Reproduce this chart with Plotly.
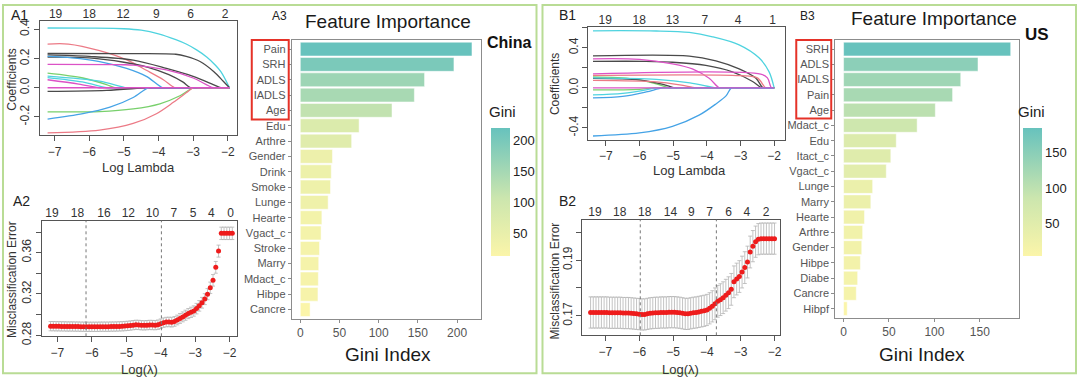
import plotly.graph_objects as go

# ---------------- DATA ----------------
# A1: China lasso coefficient paths (log lambda, coefficient)
a1_path_x = [
    [-7.2, -6.0, -5.0, -4.5, -4.0, -3.5, -3.2, -2.9, -2.6, -2.4, -2.2, -1.95],
    [-7.2, -6.6, -5.7, -4.9, -4.35, -3.86, -3.53, -3.35, -1.95],
    [-7.2, -5.0, -3.5, -3.2, -2.8, -2.4, -2.13, -1.95],
    [-7.2, -6.0, -4.73, -3.77, -3.0, -2.42, -2.2, -2.05, -1.95],
    [-7.2, -6.0, -5.0, -4.3, -3.7, -3.3, -3.07, -2.9, -1.95],
    [-7.2, -6.5, -5.7, -4.92, -4.35, -3.88, -3.7, -1.95],
    [-7.2, -5.0, -4.73, -3.77, -3.0, -2.42, -2.25, -1.95],
    [-7.2, -6.18, -5.5, -5.26, -5.1, -1.95],
    [-7.2, -5.7, -4.92, -4.75, -1.95],
    [-7.2, -6.2, -5.5, -5.35, -1.95],
    [-7.2, -6.3, -5.7, -5.55, -1.95],
    [-7.2, -5.5, -4.35, -4.2, -1.95],
    [-7.2, -5.7, -4.73, -3.96, -3.38, -3.0, -2.85, -1.95],
    [-7.2, -6.18, -5.4, -4.73, -4.3, -4.15, -1.95],
    [-7.2, -5.7, -4.73, -4.06, -3.57, -3.19, -3.0, -2.85, -1.95],
    [-7.2, -1.95],
]
a1_path_y = [
    [0.41, 0.409, 0.405, 0.395, 0.37, 0.33, 0.30, 0.26, 0.21, 0.165, 0.11, 0.0],
    [0.30, 0.30, 0.255, 0.19, 0.12, 0.055, 0.0, 0.0, 0.0],
    [0.235, 0.234, 0.23, 0.215, 0.18, 0.11, 0.045, 0.0],
    [0.225, 0.215, 0.19, 0.133, 0.078, 0.022, 0.0, 0.0, 0.0],
    [0.21, 0.205, 0.175, 0.14, 0.09, 0.04, 0.0, 0.0, 0.0],
    [0.215, 0.205, 0.18, 0.133, 0.078, 0.0, 0.0, 0.0],
    [0.16, 0.158, 0.155, 0.122, 0.067, 0.0, 0.0, 0.0],
    [0.10, 0.067, 0.022, 0.0, 0.0, 0.0],
    [0.08, 0.045, 0.0, 0.0, 0.0],
    [0.07, 0.04, 0.0, 0.0, 0.0],
    [0.055, 0.025, 0.0, 0.0, 0.0],
    [-0.025, -0.018, 0.0, 0.0, 0.0],
    [-0.165, -0.163, -0.145, -0.11, -0.055, 0.0, 0.0, 0.0],
    [-0.215, -0.178, -0.133, -0.067, 0.0, 0.0, 0.0],
    [-0.31, -0.29, -0.245, -0.178, -0.10, -0.033, 0.0, 0.0, 0.0],
    [0.0, 0.0],
]
a1_top_vals = [-6.97, -6.0, -5.02, -4.06, -3.07, -2.08]
a1_top_text = ["19", "18", "12", "9", "6", "2"]

# A2: China CV misclassification error
a2_x = [-7.20, -7.12, -7.04, -6.96, -6.88, -6.80, -6.72, -6.64, -6.56, -6.48,
        -6.40, -6.32, -6.24, -6.16, -6.08, -6.00, -5.92, -5.84, -5.76, -5.68,
        -5.60, -5.52, -5.44, -5.36, -5.28, -5.20, -5.12, -5.04, -4.96, -4.88,
        -4.80, -4.72, -4.64, -4.56, -4.48, -4.40, -4.32, -4.24, -4.16, -4.08,
        -4.00, -3.92, -3.84, -3.76, -3.68, -3.60, -3.52, -3.44, -3.36, -3.28,
        -3.20, -3.12, -3.04, -2.96, -2.88, -2.80, -2.72, -2.64, -2.56, -2.48,
        -2.40, -2.32, -2.24, -2.16, -2.08, -2.00, -1.92]
a2_err_mean = [0.2888, 0.2888, 0.2887, 0.2887, 0.2886, 0.2886, 0.2885, 0.2885, 0.2885, 0.2884,
               0.2884, 0.2883, 0.2883, 0.2882, 0.2882, 0.2882, 0.2882, 0.2882, 0.2883, 0.2883,
               0.2883, 0.2883, 0.2884, 0.2884, 0.2885, 0.2886, 0.2887, 0.2889, 0.2891, 0.2894,
               0.2898, 0.2901, 0.2900, 0.2897, 0.2896, 0.2898, 0.2900, 0.2899, 0.2898, 0.2902,
               0.2912, 0.2922, 0.2928, 0.2929, 0.2927, 0.2934, 0.2948, 0.2963, 0.2978, 0.2994,
               0.3010, 0.3022, 0.3035, 0.3058, 0.3085, 0.3115, 0.3150, 0.3198, 0.3260, 0.3332,
               0.3458, 0.3615, 0.3787, 0.3787, 0.3787, 0.3787, 0.3787]
a2_err_sd = [0.0045, 0.0045, 0.0045, 0.0045, 0.0045, 0.0045, 0.0045, 0.0045, 0.0045, 0.0045,
             0.0045, 0.0045, 0.0045, 0.0045, 0.0045, 0.0045, 0.0045, 0.0045, 0.0045, 0.0045,
             0.0045, 0.0045, 0.0045, 0.0045, 0.0045, 0.0045, 0.0045, 0.0045, 0.0045, 0.0045,
             0.0045, 0.0045, 0.0045, 0.0045, 0.0045, 0.0045, 0.0045, 0.0045, 0.0045, 0.0046,
             0.0046, 0.0046, 0.0046, 0.0046, 0.0047, 0.0047, 0.0047, 0.0048, 0.0048, 0.0049,
             0.0049, 0.0050, 0.0050, 0.0051, 0.0051, 0.0052, 0.0053, 0.0054, 0.0055, 0.0056,
             0.0057, 0.0058, 0.0060, 0.0060, 0.0060, 0.0060, 0.0060]
a2_vlines = [-6.17, -3.98]
a2_top_vals = [-7.16, -6.42, -5.65, -4.94, -4.24, -3.62, -3.06, -2.53, -1.97]
a2_top_text = ["19", "18", "16", "12", "10", "7", "5", "4", "0"]

# A3: China feature importance
china_features = ["Pain", "SRH", "ADLS", "IADLS", "Age", "Edu", "Arthre", "Gender", "Drink",
                  "Smoke", "Lunge", "Hearte", "Vgact_c", "Stroke", "Marry", "Mdact_c",
                  "Hibpe", "Cancre"]
china_gini = [219, 196, 158.5, 145.5, 117, 75, 65.5, 41, 39.5, 38.5, 35.5, 27.5, 26.5,
              24.5, 23.5, 23, 22.5, 12.5]

# B1: US lasso coefficient paths
b1_path_x = [
    [-7.38, -5.5, -4.52, -3.83, -3.04, -2.45, -2.15, -2.0],
    [-7.38, -4.52, -3.73, -3.04, -2.54, -2.33, -2.2, -2.0],
    [-7.38, -5.81, -5.02, -4.03, -3.24, -2.64, -2.37, -2.25, -2.0],
    [-7.38, -6.0, -5.02, -4.43, -3.93, -3.63, -3.5, -2.0],
    [-7.38, -2.4, -2.2, -2.08, -2.0],
    [-7.38, -3.0, -2.5, -2.25, -2.15, -2.0],
    [-7.38, -6.2, -5.5, -5.12, -5.0, -2.0],
    [-7.38, -6.0, -5.3, -4.95, -4.8, -2.0],
    [-7.38, -5.5, -4.5, -3.73, -3.6, -2.0],
    [-7.38, -5.5, -4.8, -4.33, -4.2, -2.0],
    [-7.38, -6.0, -5.5, -5.35, -2.0],
    [-7.38, -6.5, -5.8, -5.51, -5.35, -2.0],
    [-7.38, -6.5, -5.8, -5.32, -5.15, -2.0],
    [-7.38, -6.0, -5.02, -4.23, -3.73, -3.43, -3.27, -3.1, -2.0],
    [-7.38, -2.0],
]
b1_path_y = [
    [0.57, 0.568, 0.553, 0.51, 0.43, 0.30, 0.16, 0.0],
    [0.32, 0.318, 0.27, 0.19, 0.096, 0.0, 0.0, 0.0],
    [0.265, 0.265, 0.256, 0.224, 0.16, 0.064, 0.0, 0.0, 0.0],
    [0.29, 0.285, 0.24, 0.19, 0.096, 0.0, 0.0, 0.0],
    [0.14, 0.138, 0.10, 0.0, 0.0],
    [0.125, 0.122, 0.10, 0.0, 0.0, 0.0],
    [0.11, 0.09, 0.04, 0.0, 0.0, 0.0],
    [0.095, 0.08, 0.035, 0.0, 0.0, 0.0],
    [0.10, 0.085, 0.05, 0.0, 0.0, 0.0],
    [0.075, 0.06, 0.03, 0.0, 0.0, 0.0],
    [-0.02, -0.015, 0.0, 0.0, 0.0],
    [-0.07, -0.055, -0.02, 0.0, 0.0, 0.0],
    [-0.10, -0.085, -0.04, 0.0, 0.0, 0.0],
    [-0.48, -0.45, -0.384, -0.272, -0.16, -0.08, 0.0, 0.0, 0.0],
    [0.0, 0.0],
]
b1_top_vals = [-7.02, -6.01, -5.02, -4.06, -3.07, -2.05]
b1_top_text = ["19", "18", "13", "7", "4", "1"]

# B2: US CV misclassification error
b2_x = [-7.44, -7.36, -7.28, -7.20, -7.12, -7.04, -6.96, -6.88, -6.80, -6.72,
        -6.64, -6.56, -6.48, -6.40, -6.32, -6.24, -6.16, -6.08, -6.00, -5.92,
        -5.84, -5.76, -5.68, -5.60, -5.52, -5.44, -5.36, -5.28, -5.20, -5.12,
        -5.04, -4.96, -4.88, -4.80, -4.72, -4.64, -4.56, -4.48, -4.40, -4.32,
        -4.24, -4.16, -4.08, -4.00, -3.92, -3.84, -3.76, -3.68, -3.60, -3.52,
        -3.44, -3.36, -3.28, -3.20, -3.12, -3.04, -2.96, -2.88, -2.80, -2.72,
        -2.64, -2.56, -2.48, -2.40, -2.32, -2.24, -2.16, -2.08, -2.00]
b2_err_mean = [0.1712, 0.1712, 0.1712, 0.1712, 0.1712, 0.1712, 0.1712, 0.1711, 0.1711, 0.1711,
               0.1711, 0.1711, 0.1710, 0.1710, 0.1710, 0.1709, 0.1708, 0.1707, 0.1706, 0.1705,
               0.1705, 0.1707, 0.1709, 0.1710, 0.1711, 0.1711, 0.1712, 0.1712, 0.1712, 0.1713,
               0.1713, 0.1713, 0.1712, 0.1711, 0.1709, 0.1707, 0.1707, 0.1709, 0.1711, 0.1712,
               0.1714, 0.1716, 0.1718, 0.1721, 0.1727, 0.1734, 0.1743, 0.1752, 0.1758, 0.1765,
               0.1774, 0.1783, 0.1795, 0.1822, 0.1832, 0.1841, 0.1857, 0.1873, 0.1893, 0.1929,
               0.1950, 0.1966, 0.1975, 0.1977, 0.1977, 0.1977, 0.1977, 0.1977, 0.1977]
b2_err_sd = [0.0056, 0.0056, 0.0056, 0.0056, 0.0056, 0.0056, 0.0056, 0.0056, 0.0056, 0.0056,
             0.0056, 0.0056, 0.0056, 0.0056, 0.0056, 0.0056, 0.0056, 0.0056, 0.0056, 0.0056,
             0.0056, 0.0056, 0.0056, 0.0056, 0.0056, 0.0056, 0.0056, 0.0056, 0.0056, 0.0056,
             0.0056, 0.0056, 0.0056, 0.0056, 0.0056, 0.0056, 0.0056, 0.0056, 0.0056, 0.0056,
             0.0056, 0.0056, 0.0056, 0.0056, 0.0056, 0.0056, 0.0057, 0.0057, 0.0057, 0.0057,
             0.0057, 0.0057, 0.0057, 0.0057, 0.0057, 0.0057, 0.0057, 0.0057, 0.0057, 0.0057,
             0.0056, 0.0056, 0.0056, 0.0056, 0.0056, 0.0056, 0.0056, 0.0056, 0.0056]
b2_vlines = [-5.97, -3.72]
b2_top_vals = [-7.31, -6.58, -5.84, -5.08, -4.46, -3.92, -3.36, -2.82, -2.25]
b2_top_text = ["19", "18", "18", "14", "9", "7", "6", "4", "2"]

# B3: US feature importance
us_features = ["SRH", "ADLS", "IADLS", "Pain", "Age", "Mdact_c", "Edu", "Itact_c", "Vgact_c",
               "Lunge", "Marry", "Hearte", "Arthre", "Gender", "Hibpe", "Diabe", "Cancre",
               "Hibpf"]
us_gini = [184, 148, 129, 120, 101, 81, 58, 52, 47, 32, 30, 23, 21, 20, 18.5, 15.5, 14, 4]

# ---------------- STYLE ----------------
W, H = 1080, 390
BASE_FONT = "Liberation Sans, Arial, sans-serif"
GG_FONT = "Liberation Sans, Arial, sans-serif"
PAL = {"black": "#4a4a4a", "red": "#ec7a86", "green": "#78d06c", "blue": "#45a3e6",
       "cyan": "#4fd3df", "magenta": "#dc52c6"}
a1_colors = ["cyan", "red", "black", "black", "black", "blue", "magenta", "green", "cyan",
             "cyan", "magenta", "black", "green", "blue", "red", "magenta"]
b1_colors = ["cyan", "black", "black", "magenta", "magenta", "red", "green", "black", "cyan",
             "red", "green", "cyan", "blue", "blue", "magenta"]
GINI_SCALE = [[0.0, "#fbf5a9"], [0.45, "#cce6ae"], [1.0, "#67c2bd"]]


def fx(p):
    return p / W


def fy(p):
    return 1 - p / H


fig = go.Figure()

# lasso paths
for xs, ys, c in zip(a1_path_x, a1_path_y, a1_colors):
    fig.add_trace(go.Scatter(x=xs, y=ys, mode="lines", xaxis="x", yaxis="y",
                             line=dict(color=PAL[c], width=1.3, shape="spline", smoothing=0.9),
                             showlegend=False, hoverinfo="skip"))
for xs, ys, c in zip(b1_path_x, b1_path_y, b1_colors):
    fig.add_trace(go.Scatter(x=xs, y=ys, mode="lines", xaxis="x4", yaxis="y4",
                             line=dict(color=PAL[c], width=1.3, shape="spline", smoothing=0.9),
                             showlegend=False, hoverinfo="skip"))

# CV curves
for xs, ys, es, xa, ya in [(a2_x, a2_err_mean, a2_err_sd, "x2", "y2"),
                           (b2_x, b2_err_mean, b2_err_sd, "x5", "y5")]:
    fig.add_trace(go.Scatter(x=xs, y=ys, mode="markers", xaxis=xa, yaxis=ya,
                             marker=dict(color="#ee1c1c", size=5),
                             error_y=dict(type="data", array=es, color="#b4b4b4",
                                          thickness=0.8, width=2),
                             showlegend=False, hoverinfo="skip"))

# feature importance bars
for feats, vals, xa, ya, cbx in [(china_features, china_gini, "x3", "y3", 491),
                                  (us_features, us_gini, "x6", "y6", 1024)]:
    fig.add_trace(go.Bar(x=vals, y=feats, orientation="h", xaxis=xa, yaxis=ya,
                         marker=dict(color=vals, colorscale=GINI_SCALE, cmin=min(vals),
                                     cmax=max(vals), line=dict(color="white", width=0.5),
                                     colorbar=dict(x=fx(cbx), xanchor="left", xpad=0, ypad=0,
                                                   y=fy(196), yanchor="middle", len=132 / H,
                                                   lenmode="fraction", thickness=19,
                                                   outlinewidth=0, ticks="",
                                                   tickvals=[50, 100, 150, 200],
                                                   tickfont=dict(family=GG_FONT, size=13,
                                                                 color="#222"))),
                         showlegend=False, hoverinfo="skip"))

# dummy traces to host top axes
for xa, ya in [("x7", "y"), ("x8", "y2"), ("x9", "y4"), ("x10", "y5")]:
    fig.add_trace(go.Scatter(x=[None], y=[None], xaxis=xa, yaxis=ya, showlegend=False,
                             hoverinfo="skip"))

tickfont = dict(family=BASE_FONT, size=12, color="#333")
base_ax = dict(showline=True, mirror=True, linecolor="#555", linewidth=1, ticks="outside",
               ticklen=5, tickcolor="#555", tickwidth=1, showgrid=False, zeroline=False,
               tickfont=tickfont)
top_ax = dict(side="top", ticks="", showline=False, showgrid=False, zeroline=False,
              tickfont=tickfont)
gg_x = dict(showline=True, mirror=True, linecolor="#8c8c8c", linewidth=1, ticks="outside",
            ticklen=3, tickcolor="#8c8c8c", showgrid=False, zeroline=False,
            tickfont=dict(family=GG_FONT, size=12, color="#555"))
gg_y = dict(showline=True, mirror=True, linecolor="#8c8c8c", linewidth=1, ticks="outside",
            ticklen=3, tickcolor="#8c8c8c", showgrid=False, zeroline=False, type="category",
            range=[17.6, -0.6], tickmode="array",
            tickfont=dict(family=GG_FONT, size=11, color="#555"))

A1x = [-7.42, -1.74]
A2x = [-7.45, -1.79]
B1x = [-7.515, -1.67]
B2x = [-7.68, -1.83]

fig.update_layout(
    width=W, height=H, autosize=False, margin=dict(l=0, r=0, t=0, b=0),
    paper_bgcolor="white", plot_bgcolor="white", bargap=0.1,
    xaxis=dict(base_ax, domain=[fx(40), fx(237)], anchor="y", range=A1x,
               tickvals=[-7, -6, -5, -4, -3, -2]),
    yaxis=dict(base_ax, domain=[fy(137), fy(20)], anchor="x", range=[-0.325, 0.455],
               tickvals=[-0.2, 0.0, 0.2, 0.4], ticktext=["-0.2", "0.0", "0.2", "0.4"],
               tickangle=-90),
    xaxis2=dict(base_ax, domain=[fx(42), fx(237)], anchor="y2", range=A2x,
                tickvals=[-7, -6, -5, -4, -3, -2]),
    yaxis2=dict(base_ax, domain=[fy(344), fy(225)], anchor="x2", range=[0.279, 0.391],
                tickvals=[0.28, 0.30, 0.32, 0.34, 0.36, 0.38],
                ticktext=["0.28", "", "0.32", "", "0.36", ""], tickangle=-90),
    xaxis3=dict(gg_x, domain=[fx(292), fx(481)], anchor="y3", range=[-10.95, 229.95],
                tickvals=[0, 50, 100, 150, 200]),
    yaxis3=dict(gg_y, domain=[fy(326), fy(39)], anchor="x3", categoryorder="array",
                categoryarray=china_features, tickvals=china_features),
    xaxis4=dict(base_ax, domain=[fx(589), fx(786)], anchor="y4", range=B1x,
                tickvals=[-7, -6, -5, -4, -3, -2]),
    yaxis4=dict(base_ax, domain=[fy(142), fy(26)], anchor="x4", range=[-0.52, 0.605],
                tickvals=[-0.4, -0.2, 0.0, 0.2, 0.4, 0.6],
                ticktext=["-0.4", "", "0.0", "", "0.4", ""], tickangle=-90),
    xaxis5=dict(base_ax, domain=[fx(583), fx(781)], anchor="y5", range=B2x,
                tickvals=[-7, -6, -5, -4, -3, -2]),
    yaxis5=dict(base_ax, domain=[fy(343), fy(224)], anchor="x5", range=[0.1630, 0.2045],
                tickvals=[0.17, 0.18, 0.19, 0.20], ticktext=["0.17", "", "0.19", ""],
                tickangle=-90),
    xaxis6=dict(gg_x, domain=[fx(836), fx(1020)], anchor="y6", range=[-9.2, 193.2],
                tickvals=[0, 50, 100, 150]),
    yaxis6=dict(gg_y, domain=[fy(325), fy(39)], anchor="x6", categoryorder="array",
                categoryarray=us_features, tickvals=us_features),
    xaxis7=dict(top_ax, overlaying="x", anchor="y", range=A1x, tickvals=a1_top_vals,
                ticktext=a1_top_text),
    xaxis8=dict(top_ax, overlaying="x2", anchor="y2", range=A2x, tickvals=a2_top_vals,
                ticktext=a2_top_text),
    xaxis9=dict(top_ax, overlaying="x4", anchor="y4", range=B1x, tickvals=b1_top_vals,
                ticktext=b1_top_text),
    xaxis10=dict(top_ax, overlaying="x5", anchor="y5", range=B2x, tickvals=b2_top_vals,
                 ticktext=b2_top_text),
)

shapes = []
# panel frames
for x0, x1 in [(3, 537), (543, 1077)]:
    shapes.append(dict(type="rect", xref="paper", yref="paper", x0=fx(x0), x1=fx(x1),
                       y0=fy(382), y1=fy(3), line=dict(color="#b9dc95", width=2),
                       layer="below"))
# red boxes around top-5 labels
for x0, x1, y0, y1 in [(252, 289, 121, 39), (797, 832, 120, 39)]:
    shapes.append(dict(type="rect", xref="paper", yref="paper", x0=fx(x0), x1=fx(x1),
                       y0=fy(y0), y1=fy(y1), line=dict(color="#e53228", width=2)))
# CV dotted lines
for v in a2_vlines:
    shapes.append(dict(type="line", xref="x2", yref="y2 domain", x0=v, x1=v, y0=0, y1=1,
                       line=dict(color="#777", width=1, dash="dot")))
for v in b2_vlines:
    shapes.append(dict(type="line", xref="x5", yref="y5 domain", x0=v, x1=v, y0=0, y1=1,
                       line=dict(color="#777", width=1, dash="dot")))
fig.update_layout(shapes=shapes)

ann = []


def text(s, x, y, size, family=BASE_FONT, color="#222", angle=0, bold=False):
    if bold:
        s = "<b>" + s + "</b>"
    ann.append(dict(text=s, x=fx(x), y=fy(y), xref="paper", yref="paper", showarrow=False,
                    xanchor="center", yanchor="middle", textangle=angle,
                    font=dict(family=family, size=size, color=color)))


text("A1", 20, 13, 14)
text("A2", 22, 205, 14)
text("A3", 280, 14, 12)
text("B1", 568, 13, 14)
text("B2", 568, 205, 14)
text("B3", 808, 14, 12)
text("Log Lambda", 139, 170, 13, color="#333")
text("Log(λ)", 140, 378, 13, color="#333")
text("Log Lambda", 690, 173, 13, color="#333")
text("Log(λ)", 681, 378, 13, color="#333")
text("Coefficients", 12, 80, 12, color="#333", angle=-90)
text("Misclassification Error", 12, 285, 12, color="#333", angle=-90)
text("Coefficients", 555, 84, 12, color="#333", angle=-90)
text("Misclassification Error", 555, 287, 12, color="#333", angle=-90)
text("Feature Importance", 388, 20, 19, family=GG_FONT, color="#1a1a1a")
text("Feature Importance", 935, 17, 19, family=GG_FONT, color="#1a1a1a")
text("Gini Index", 388, 363, 19, family=GG_FONT, color="#1a1a1a")
text("Gini Index", 923, 363, 19, family=GG_FONT, color="#1a1a1a")
text("China", 510, 42, 16, family=GG_FONT, color="#111", bold=True)
text("US", 1038, 33, 17, family=GG_FONT, color="#111", bold=True)
text("Gini", 503, 113, 15, family=GG_FONT, color="#222")
text("Gini", 1032, 113, 15, family=GG_FONT, color="#222")
fig.update_layout(annotations=ann)

fig.write_html("out.html", config={"displayModeBar": False},
               post_script="document.body.style.margin='0';"
                           "document.body.style.overflow='hidden';")
